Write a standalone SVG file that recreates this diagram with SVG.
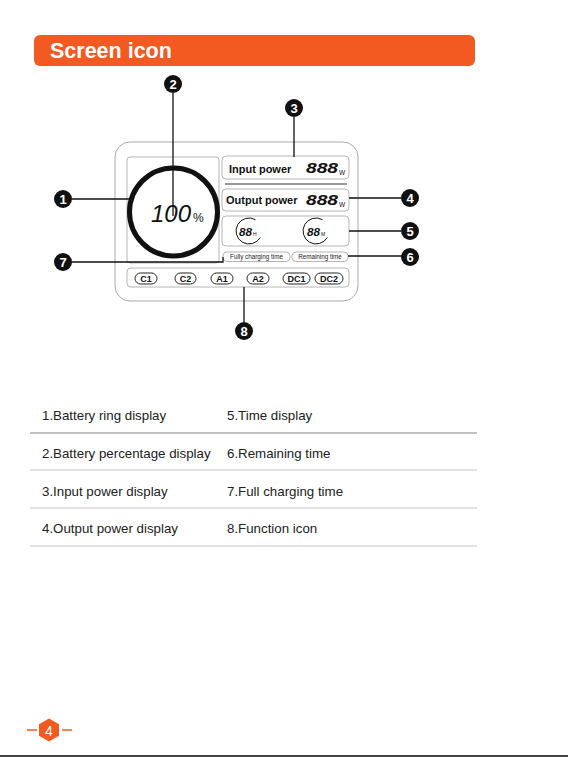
<svg xmlns="http://www.w3.org/2000/svg" width="568" height="757" viewBox="0 0 568 757">
<style>
.panel{fill:#fff;stroke:#b5b5b5;stroke-width:1}
.lbl{font-family:"Liberation Sans",Arial,sans-serif;font-weight:bold;fill:#111}
.seg{font-family:"Liberation Sans",Arial,sans-serif;font-style:italic;fill:#111}
.pill{fill:#fff;stroke:#222;stroke-width:1}
.pt{font-family:"Liberation Sans",Arial,sans-serif;font-weight:bold;font-size:9px;fill:#111;text-anchor:middle}
.small{font-family:"Liberation Sans",Arial,sans-serif;font-size:6.3px;fill:#222;text-anchor:middle}
.co circle{fill:#111}
.co text{font-family:"Liberation Sans",Arial,sans-serif;font-size:13px;font-weight:bold;fill:#fff;text-anchor:middle}
.cl{stroke:#111;stroke-width:1.3;fill:none}
.row{font-family:"Liberation Sans",Arial,sans-serif;font-size:13.3px;fill:#222}
.rl{stroke:#c8c8c8;stroke-width:1}
</style>
<rect width="568" height="757" fill="#fff"/>
<g id="header">
<rect x="34" y="35" width="441" height="31" rx="6" fill="#F25A22"/>
<text x="50" y="58" font-family="Liberation Sans, Arial, sans-serif" font-weight="bold" font-size="21.5" fill="#fff">Screen icon</text>
</g>
<g id="device">
<rect x="115" y="142" width="243" height="159" rx="15" fill="#fff" stroke="#aaa" stroke-width="1"/>
</g>
<g id="ring-panel">
<rect class="panel" x="127" y="157" width="92" height="106" rx="3"/>
<circle cx="173.5" cy="212" r="44" fill="none" stroke="#111" stroke-width="5"/>
<text class="seg" x="151" y="222" font-size="24">100<tspan font-style="normal" font-size="12" dx="2">%</tspan></text>
</g>
<g id="input-power">
<rect class="panel" x="222" y="156" width="127" height="23" rx="4"/>
<text class="lbl" x="229" y="173" font-size="11">Input power</text>
<text class="seg" x="306" y="173" font-size="15" font-weight="bold" textLength="32" lengthAdjust="spacingAndGlyphs">888</text>
<text x="339" y="175" font-family="Liberation Sans, Arial, sans-serif" font-size="6.5" fill="#111">W</text>
</g>
<line x1="225" y1="184" x2="347" y2="184" stroke="#777" stroke-width="1.5"/>
<g id="output-power">
<rect class="panel" x="222" y="189" width="127" height="22" rx="4"/>
<text class="lbl" x="226" y="204" font-size="11">Output power</text>
<text class="seg" x="306" y="205" font-size="15" font-weight="bold" textLength="32" lengthAdjust="spacingAndGlyphs">888</text>
<text x="339" y="207" font-family="Liberation Sans, Arial, sans-serif" font-size="6.5" fill="#111">W</text>
</g>
<g id="time-display">
<rect class="panel" x="222" y="216" width="127" height="30" rx="4"/>
<path d="M255.5 219.7 A13 13 0 1 0 260.3 237.5" fill="none" stroke="#111" stroke-width="1"/>
<text class="seg" x="239" y="235.5" font-size="11" font-weight="bold" textLength="13" lengthAdjust="spacingAndGlyphs">88</text>
<text x="253" y="236" font-family="Liberation Sans, Arial, sans-serif" font-size="5" fill="#111">H</text>
<path d="M322.5 219.7 A13 13 0 1 0 327.3 237.5" fill="none" stroke="#111" stroke-width="1"/>
<text class="seg" x="307" y="235.5" font-size="11" font-weight="bold" textLength="13" lengthAdjust="spacingAndGlyphs">88</text>
<text x="321" y="236" font-family="Liberation Sans, Arial, sans-serif" font-size="5" fill="#111">M</text>
</g>
<g id="fully-charging">
<rect class="panel" x="223" y="252" width="67" height="9.5" rx="4"/>
<text class="small" x="256.5" y="259">Fully charging time</text>
</g>
<g id="remaining">
<rect class="panel" x="292" y="252" width="56" height="9.5" rx="4"/>
<text class="small" x="320" y="259">Remaining time</text>
</g>
<g id="function-icons">
<rect class="panel" x="127" y="268" width="222" height="19" rx="4"/>
<rect class="pill" x="135" y="273" width="22" height="11" rx="5.5"/><text class="pt" x="146" y="282">C1</text>
<rect class="pill" x="175" y="273" width="21" height="11" rx="5.5"/><text class="pt" x="185.5" y="282">C2</text>
<rect class="pill" x="211" y="273" width="22" height="11" rx="5.5"/><text class="pt" x="222" y="282">A1</text>
<rect class="pill" x="247" y="273" width="22" height="11" rx="5.5"/><text class="pt" x="258" y="282">A2</text>
<rect class="pill" x="283" y="273" width="27" height="11" rx="5.5"/><text class="pt" x="296.5" y="282">DC1</text>
<rect class="pill" x="315" y="273" width="28" height="11" rx="5.5"/><text class="pt" x="329" y="282">DC2</text>
</g>
<g id="connectors">
<line class="cl" x1="72" y1="199" x2="129" y2="199"/>
<line class="cl" x1="173" y1="93" x2="173" y2="216"/>
<line class="cl" x1="294" y1="117" x2="294" y2="157"/>
<line class="cl" x1="349" y1="198" x2="401" y2="198"/>
<line class="cl" x1="349" y1="231" x2="401" y2="231"/>
<line class="cl" x1="348" y1="256" x2="401" y2="256"/>
<polyline class="cl" points="72,262 223,262 223,257"/>
<line class="cl" x1="244" y1="287" x2="244" y2="322"/>
</g>
<g id="callout-1" class="co"><circle cx="63" cy="199" r="9"/><text x="63" y="203.7">1</text></g>
<g id="callout-2" class="co"><circle cx="173" cy="84" r="9"/><text x="173" y="88.7">2</text></g>
<g id="callout-3" class="co"><circle cx="294" cy="108" r="9"/><text x="294" y="112.7">3</text></g>
<g id="callout-4" class="co"><circle cx="410" cy="198" r="9"/><text x="410" y="202.7">4</text></g>
<g id="callout-5" class="co"><circle cx="410" cy="231" r="9"/><text x="410" y="235.7">5</text></g>
<g id="callout-6" class="co"><circle cx="410" cy="257" r="9"/><text x="410" y="261.7">6</text></g>
<g id="callout-7" class="co"><circle cx="63" cy="262" r="9"/><text x="63" y="266.7">7</text></g>
<g id="callout-8" class="co"><circle cx="244" cy="331" r="9"/><text x="244" y="335.7">8</text></g>
<g id="legend">
<text class="row" x="42" y="420">1.Battery ring display</text>
<text class="row" x="227" y="420">5.Time display</text>
<line x1="30" y1="433" x2="477" y2="433" stroke="#c0c0c0" stroke-width="2"/>
<text class="row" x="42" y="458">2.Battery percentage display</text>
<text class="row" x="227" y="458">6.Remaining time</text>
<line class="rl" x1="30" y1="470" x2="477" y2="470"/>
<text class="row" x="42" y="496">3.Input power display</text>
<text class="row" x="227" y="496">7.Full charging time</text>
<line class="rl" x1="30" y1="508" x2="477" y2="508"/>
<text class="row" x="42" y="533">4.Output power display</text>
<text class="row" x="227" y="533">8.Function icon</text>
<line class="rl" x1="30" y1="546" x2="477" y2="546"/>
</g>
<g id="page-number">
<line x1="27" y1="730" x2="37" y2="730" stroke="#F25A22" stroke-width="1.5"/>
<line x1="62" y1="730" x2="72" y2="730" stroke="#F25A22" stroke-width="1.5"/>
<polygon points="49,718.5 59,724.2 59,735.8 49,741.5 39,735.8 39,724.2" fill="#F25A22"/>
<text x="49" y="735.5" font-family="Liberation Sans, Arial, sans-serif" font-size="14" fill="#fff" text-anchor="middle">4</text>
</g>
<line x1="0" y1="756" x2="568" y2="756" stroke="#000" stroke-width="1.5"/>
</svg>
